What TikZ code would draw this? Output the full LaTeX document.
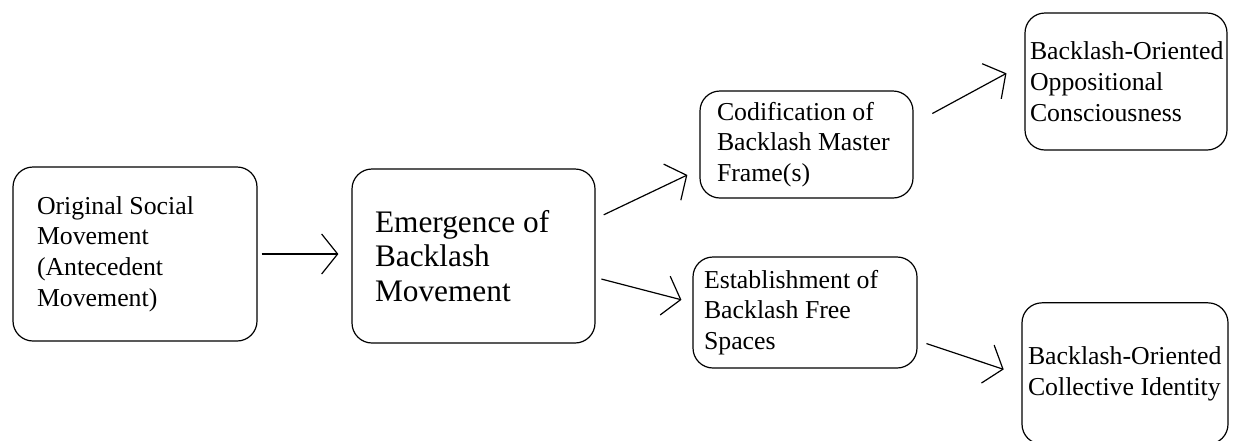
\documentclass[tikz,border=0pt]{standalone}
\usepackage{fontspec}
\setmainfont{Liberation Serif}
\usetikzlibrary{arrows.meta}
\newcommand{\stagefont}{\fontsize{19.35pt}{23.1pt}\selectfont}
\newcommand{\leadfont}{\fontsize{23.5pt}{25.9pt}\selectfont}

\begin{document}
\begin{tikzpicture}[x=0.75pt,y=-0.75pt,
  stagebox/.style={draw, line width=0.9pt, rounded corners=15pt, align=flush left,
                   inner sep=0pt, font=\stagefont},
  flow/.style={line width=0.9pt, -{Straight Barb[length=12pt,width=30pt]}}]
\useasboundingbox (0,0) rectangle (1238,440);

% Antecedent and backlash movement
\node[stagebox, minimum width=183pt, minimum height=130.5pt, text width=147pt]
  (orig) at (135,254) {Original Social\\Movement\\(Antecedent\\Movement)};
\node[stagebox, minimum width=182.25pt, minimum height=130.5pt, text width=147.75pt,
  font=\leadfont] (emerg) at (473.5,256) {Emergence of\\Backlash\\Movement};

% Middle stage
\node[stagebox, minimum width=159.75pt, minimum height=80.25pt, text width=134.25pt]
  (codif) at (806.5,144.5) {Codification of\\Backlash Master\\Frame(s)};
\node[stagebox, minimum width=168pt, minimum height=83.25pt, text width=151.5pt]
  (free) at (805,312.5) {Establishment of\\Backlash Free\\Spaces};

% Outcomes
\node[stagebox, minimum width=151.5pt, minimum height=102.75pt, text width=144pt]
  (consc) at (1126,81.5) {\mbox{Backlash-Oriented}\\Oppositional\\Consciousness};
\node[stagebox, minimum width=154.5pt, minimum height=106pt, text width=145.5pt]
  (ident) at (1125,373.5) {\mbox{Backlash-Oriented}\\\mbox{Collective Identity}};

% Connectors
\draw[flow, shorten <=3pt, shorten >=9.75pt] (orig.east) -- (orig.east -| emerg.west);
\draw[flow, shorten <=6.7pt, shorten >=10pt] (emerg.17) -- (codif.193);
\draw[flow, shorten <=4.5pt, shorten >=8.5pt] (emerg.350) -- (free.175);
\draw[flow, shorten <=16pt, shorten >=15.3pt] (codif.11) -- (consc.170);
\draw[flow, shorten <=7pt, shorten >=14pt] (free.346) -- (ident.181);
\end{tikzpicture}
\end{document}
